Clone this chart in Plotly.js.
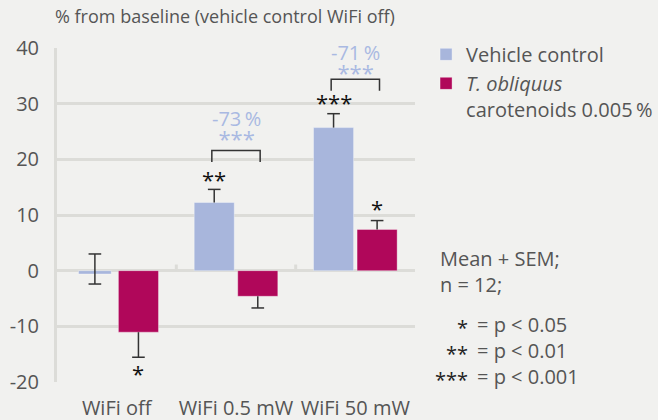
<!DOCTYPE html>
<html>
<head>
<meta charset="utf-8">
<script src="https://cdn.plot.ly/plotly-3.0.1.min.js"></script>
<style>html,body{margin:0;padding:0;background:#f1f1ef;}#chart{width:658px;height:420px;}</style>
</head>
<body>
<div id="chart"></div>
<script>
// ---- data ----
var categories = ['WiFi off', 'WiFi 0.5 mW', 'WiFi 50 mW'];
var seriesNames = ['Vehicle control', '<i>T. obliquus</i><br>carotenoids 0.005\u2009%'];
var vehicleValues = [-0.6, 12.25, 25.7];
var vehicleSemPlus = [3.6, 2.35, 2.5];
var vehicleSemMinus = [1.8, 0, 0];
var extractValues = [-11.05, -4.6, 7.4];
var extractSemPlus = [0, 0, 1.6];
var extractSemMinus = [4.5, 2.1, 0];
var vehicleSig = ['', '**', '***'];
var vehicleSigY = [null, 16.6, 30.4];
var extractSig = ['*', '', '*'];
var extractSigY = [-18.2, null, 11.4];
var compPercent = ['', '-73\u2009%', '-71\u2009%'];
var compStars = ['', '***', '***'];
var bracketTop = [null, 21.6, 34.4];
var yTickVals = [-20, -10, 0, 10, 20, 30, 40];
var yTickText = ['-20', '-10', '0', '10', '20', '30', '40'];
var noteLines = ['Mean + SEM;', 'n = 12;'];
var legendStars = ['*', '**', '***'];
var legendP = ['= p < 0.05', '= p < 0.01', '= p < 0.001'];

// ---- styling ----
var colVehicle = '#a8b6dc';
var colExtract = '#b0075a';
var colComp = '#a9b9e2';
var gridCol = '#dcdcd8';
var textCol = '#555555';
var FONT = '"Open Sans", sans-serif';
var FS = 20;
var bargap = 0.27, bargroupgap = 0.08;
var slot = (1 - bargap) / 2;
var off = slot / 2;             // offset of each bar centre from category centre
var capHalf = 0.053;
var compShift = [0, -5, -10];
var xs = categories.map(function (c, i) { return i; });

function capTrace(vals, plus, minus, sign) {
  var x = [], y = [];
  vals.forEach(function (v, i) {
    var cx = i + sign * off;
    if (plus[i] > 0) { x.push(cx - capHalf, cx + capHalf, null); y.push(v + plus[i], v + plus[i], null); }
    if (minus[i] > 0) { x.push(cx - capHalf, cx + capHalf, null); y.push(v - minus[i], v - minus[i], null); }
  });
  return {x: x, y: y, type: 'scatter', mode: 'lines', line: {color: '#333', width: 1.5},
          showlegend: false, hoverinfo: 'skip'};
}

var traces = [
  {x: xs, y: vehicleValues, type: 'bar', name: seriesNames[0], legendgroup: 'a',
   width: [0.274, slot * (1 - bargroupgap), slot * (1 - bargroupgap)],
   marker: {color: colVehicle, line: {color: 'rgba(255,255,255,0.35)', width: 1}},
   error_y: {type: 'data', symmetric: false, array: vehicleSemPlus, arrayminus: vehicleSemMinus,
             width: 0, thickness: 1.5, color: '#333'}},
  {x: xs, y: extractValues, type: 'bar', name: seriesNames[1], legendgroup: 'b',
   marker: {color: colExtract, line: {color: 'rgba(255,255,255,0.35)', width: 1}},
   error_y: {type: 'data', symmetric: false, array: extractSemPlus, arrayminus: extractSemMinus,
             width: 0, thickness: 1.5, color: '#333'}},
  capTrace(vehicleValues, vehicleSemPlus, vehicleSemMinus, -1),
  capTrace(extractValues, extractSemPlus, extractSemMinus, 1)
];

var annotations = [];
var shapes = [];
var sigFont = {family: FONT, size: 22, color: '#111'};
categories.forEach(function (c, i) {
  if (vehicleSig[i]) annotations.push({x: i - off, y: vehicleSigY[i], text: vehicleSig[i], showarrow: false,
    yshift: -1, font: sigFont});
  if (extractSig[i]) annotations.push({x: i + off, y: extractSigY[i], text: extractSig[i], showarrow: false,
    yshift: -1, font: sigFont});
  if (compPercent[i]) {
    var top = bracketTop[i];
    var bx = off + 0.02;
    shapes.push({type: 'path', xref: 'x', yref: 'y', line: {color: '#333', width: 1.5},
      path: 'M' + (i - bx) + ',' + (top - 2.1) + ' L' + (i - bx) + ',' + top + ' L' + (i + bx) + ',' + top + ' L' + (i + bx) + ',' + (top - 2.1)});
    annotations.push({x: i, y: top, yanchor: 'bottom', yshift: compShift[i], showarrow: false,
      text: '<span style="font-size:20px">' + compPercent[i] + '</span><br><span style="font-size:22px">' + compStars[i] + '</span>',
      font: {family: FONT, size: 16, color: colComp}});
  }
});
// small category separators at the zero line
[0.5, 1.5].forEach(function (p) {
  shapes.push({type: 'line', xref: 'x', yref: 'y', x0: p, x1: p, y0: 0, y1: 1.1, line: {color: gridCol, width: 3}});
});

// notes on the right
annotations.push({xref: 'paper', yref: 'paper', x: 1.064, y: 0.331, xanchor: 'left', yanchor: 'middle', align: 'left',
  text: noteLines.join('<br>'), showarrow: false, font: {family: FONT, size: FS, color: textCol}});
annotations.push({xref: 'paper', yref: 'paper', x: 1.1536, y: 0.0958, xanchor: 'right', yanchor: 'middle', align: 'right',
  text: legendStars.join('<br>'), showarrow: false, yshift: -3, font: {family: FONT, size: FS, color: '#222'}});
annotations.push({xref: 'paper', yref: 'paper', x: 1.167, y: 0.0958, xanchor: 'left', yanchor: 'middle', align: 'left',
  text: legendP.join('<br>'), showarrow: false, font: {family: FONT, size: FS, color: textCol}});

var layout = {
  width: 658, height: 420,
  paper_bgcolor: '#f1f1ef', plot_bgcolor: '#f1f1ef',
  margin: {l: 57, r: 243, t: 48, b: 38},
  font: {family: FONT, size: FS, color: textCol},
  title: {text: '% from baseline (vehicle control WiFi off)', font: {family: FONT, size: 18, color: textCol},
          xref: 'container', x: 0.0836, xanchor: 'left', yref: 'container', y: 0.96, yanchor: 'middle'},
  barmode: 'group', bargap: bargap, bargroupgap: bargroupgap,
  showlegend: true,
  legend: {xref: 'container', yref: 'container', x: 0.6475, y: 0.917, xanchor: 'left', yanchor: 'top',
           bgcolor: 'rgba(0,0,0,0)', font: {family: FONT, size: FS, color: textCol},
           traceorder: 'grouped', tracegroupgap: 0, valign: 'top'},
  xaxis: {type: 'linear', range: [-0.5, 2.5], tickvals: xs, ticktext: categories, showgrid: false,
          zeroline: false, showline: false, ticks: '', ticklabelstandoff: 12,
          tickfont: {family: FONT, size: FS, color: textCol}},
  yaxis: {range: [-20, 40], tickvals: yTickVals, ticktext: yTickText, showgrid: true, gridcolor: gridCol,
          gridwidth: 3, zeroline: true, zerolinecolor: gridCol, zerolinewidth: 3, showline: true,
          linecolor: gridCol, linewidth: 3, ticks: '', ticklabelstandoff: 11,
          tickfont: {family: FONT, size: FS, color: textCol}},
  annotations: annotations,
  shapes: shapes
};

Plotly.newPlot('chart', traces, layout, {displayModeBar: false, staticPlot: true});
</script>
</body>
</html>
